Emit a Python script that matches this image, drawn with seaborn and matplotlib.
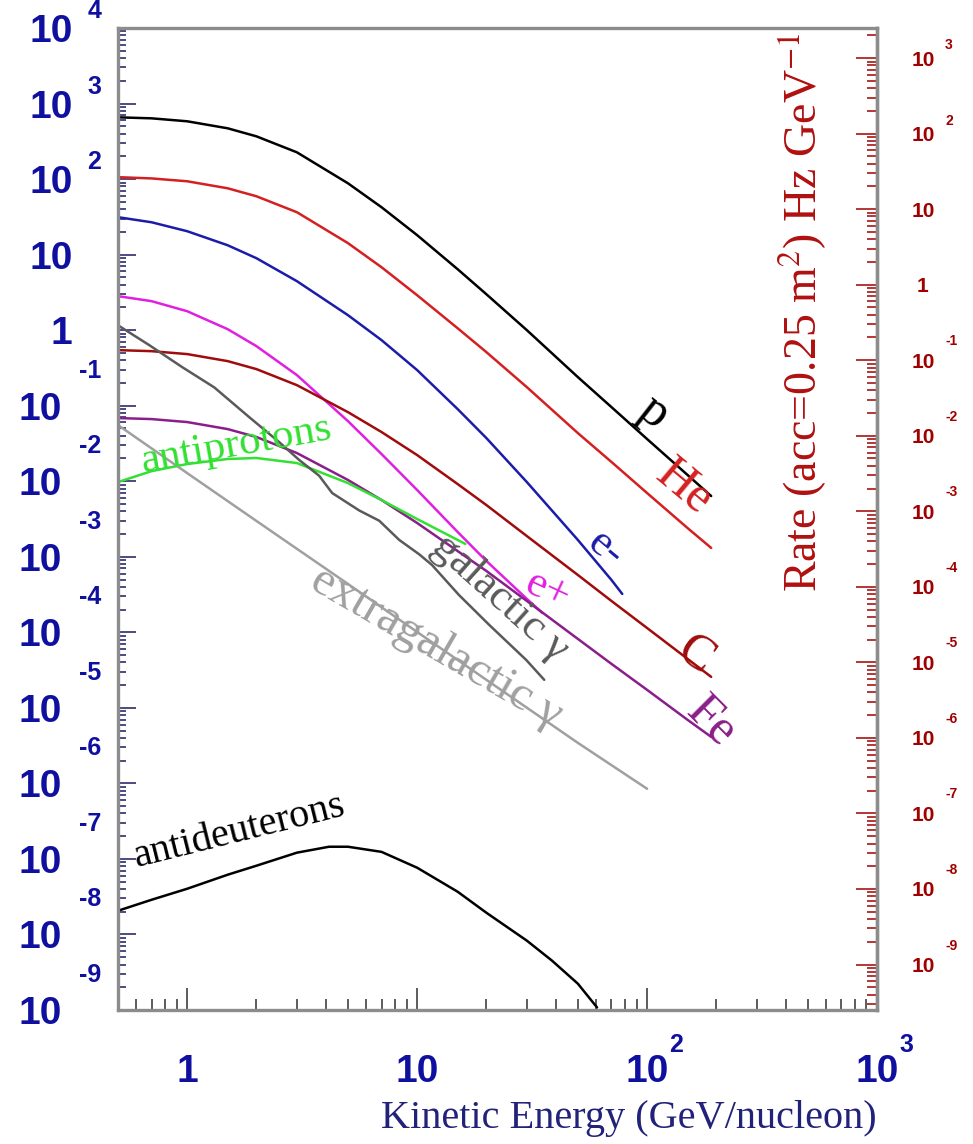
import numpy as np
import pandas as pd
import seaborn as sns
import matplotlib.pyplot as plt
from matplotlib.ticker import LogLocator, NullFormatter

# kinetic energy (GeV/nucleon) and flux values
energy_p = [0.5, 0.7, 1, 1.5, 2, 3, 5, 7, 10, 15, 20, 30, 50, 70, 100, 150, 190]
flux_p = [657, 637, 582, 470, 368, 226, 88.0, 42.4, 18.1, 6.41, 2.99, 1.00,
          0.239, 0.0958, 0.0362, 0.0121, 0.00637]

energy_he = [0.5, 0.7, 1, 1.5, 2, 3, 5, 7, 10, 15, 20, 30, 50, 70, 100, 150, 190]
flux_he = [106, 102, 93.5, 75.5, 59.2, 36.4, 14.2, 6.81, 2.90, 1.06, 0.512, 0.176,
           0.0434, 0.0180, 0.00698, 0.00240, 0.00131]

energy_em = [0.5, 0.7, 1, 1.5, 2, 3, 5, 7, 10, 15, 20, 30, 50, 70, 78]
flux_em = [31.3, 26.8, 20.4, 13.3, 8.96, 4.45, 1.58, 0.738, 0.296, 0.0902, 0.0373,
           0.00975, 0.00167, 0.000493, 0.000322]

energy_ep = [0.5, 0.7, 1, 1.5, 2, 3, 5, 7, 10, 15, 20, 30, 35]
flux_ep = [2.82, 2.42, 1.78, 1.03, 0.614, 0.254, 0.0625, 0.0229, 0.00765, 0.00213,
           0.000880, 0.000277, 0.000181]

energy_c = [0.5, 0.7, 1, 1.5, 2, 3, 5, 7, 10, 15, 20, 30, 50, 70, 100, 150, 190]
flux_c = [0.544, 0.527, 0.482, 0.389, 0.305, 0.187, 0.0822, 0.0448, 0.0222, 0.00918,
          0.00484, 0.00188, 0.000574, 0.000260, 0.000114, 4.45e-5, 2.57e-5]

energy_fe = [0.5, 0.7, 1, 1.5, 2, 3, 5, 7, 10, 15, 20, 30, 50, 70, 100, 150, 190]
flux_fe = [0.0686, 0.0665, 0.0607, 0.0490, 0.0385, 0.0236, 0.0104, 0.00564, 0.00280,
           0.00119, 0.000649, 0.000260, 8.18e-5, 3.82e-5, 1.73e-5, 6.94e-6, 4.13e-6]

energy_pbar = [0.5, 0.7, 1, 1.5, 2, 3, 5, 7, 10, 15, 16.2]
flux_pbar = [0.00975, 0.0136, 0.0169, 0.0197, 0.0203, 0.0174, 0.00946, 0.00564,
             0.00316, 0.00167, 0.00148]

energy_gal = [0.5, 0.684, 0.951, 1.31, 1.86, 2.51, 3.07, 3.75, 4.27,
              5.60, 6.84, 8.36, 10.2, 11.6, 15.2, 20.6, 29.8, 35.7]
flux_gal = [1.16, 0.633, 0.324, 0.175, 0.0706, 0.0330, 0.0191, 0.0118, 0.00698,
            0.00410, 0.00300, 0.00167, 0.00108, 0.000779, 0.000312, 0.000125, 4.31e-5, 2.35e-5]

energy_xgal = [0.5, 1, 2, 5, 10, 20, 50, 100]
flux_xgal = [0.0554, 0.0128, 0.00298, 0.000437, 0.000101, 2.35e-5, 3.44e-6, 8.49e-7]

energy_dbar = [0.5, 0.7, 1, 1.5, 2, 3, 4.14, 5, 7, 10, 15, 20, 30, 38.6, 50, 60.6]
flux_dbar = [2.06e-8, 2.88e-8, 4.03e-8, 6.18e-8, 8.13e-8, 1.21e-7, 1.45e-7, 1.45e-7,
             1.24e-7, 7.65e-8, 3.68e-8, 1.94e-8, 8.28e-9, 4.50e-9, 2.23e-9, 1.08e-9]

species = ["p", "He", "e-", "e+", "C", "Fe", "antiprotons",
           "galactic", "extragalactic", "antideuterons"]
energies = [energy_p, energy_he, energy_em, energy_ep, energy_c, energy_fe,
            energy_pbar, energy_gal, energy_xgal, energy_dbar]
fluxes = [flux_p, flux_he, flux_em, flux_ep, flux_c, flux_fe,
          flux_pbar, flux_gal, flux_xgal, flux_dbar]

# acceptance used for the right hand rate axis (m^2)
acceptance = 0.25

y_exponents = list(range(4, -10, -1))
rate_exponents = list(range(3, -10, -1))
x_exponents = [0, 1, 2, 3]

colors = {
    "p": "#000000",
    "He": "#d42020",
    "e-": "#1c1caa",
    "e+": "#e020e0",
    "C": "#a00c0c",
    "Fe": "#8a1e8a",
    "antiprotons": "#33e033",
    "galactic": "#5a5a5a",
    "extragalactic": "#a0a0a0",
    "antideuterons": "#000000",
}

rows = []
for name, en, fl in zip(species, energies, fluxes):
    for e, f in zip(en, fl):
        rows.append({"energy": e, "flux": f, "species": name})
df = pd.DataFrame(rows)

sns.set_theme(style="white")
plt.rcParams["font.family"] = ["Liberation Serif", "DejaVu Serif"]
plt.rcParams["mathtext.fontset"] = "stix"

W, H = 973, 1144
fig = plt.figure(figsize=(W / 100, H / 100), dpi=100)
ax = fig.add_axes([118 / W, (H - 1010) / H, 759 / W, 982 / H])

sns.lineplot(data=df, x="energy", y="flux", hue="species", palette=colors,
             sort=False, estimator=None, legend=False, linewidth=1.8, ax=ax)

ax.set_xscale("log")
ax.set_yscale("log")
ax.set_xlim(0.5, 1000)
ax.set_ylim(1e-9, 1e4)
ax.set_xlabel("")
ax.set_ylabel("")

frame = "#8c8c8c"
for side in ["left", "right", "top", "bottom"]:
    ax.spines[side].set_color(frame)
    ax.spines[side].set_linewidth(2.4)
    ax.spines[side].set_visible(True)

for axis in [ax.xaxis, ax.yaxis]:
    axis.set_major_locator(LogLocator(base=10, numticks=30))
    axis.set_minor_locator(LogLocator(base=10, subs=np.arange(2, 10), numticks=30))
    axis.set_major_formatter(NullFormatter())
    axis.set_minor_formatter(NullFormatter())

ax.tick_params(axis="x", which="both", direction="in", top=False, bottom=True,
               color="#303030", width=1.1)
ax.tick_params(axis="x", which="major", length=16)
ax.tick_params(axis="x", which="minor", length=8)
ax.tick_params(axis="y", which="both", direction="in", left=True, right=False,
               color="#1a1a60", width=1.1)
ax.tick_params(axis="y", which="major", length=13)
ax.tick_params(axis="y", which="minor", length=6)

# right hand axis: counting rate for the given acceptance
red = "#a00000"
sec = ax.secondary_yaxis("right", functions=(lambda f: f * acceptance,
                                             lambda r: r / acceptance))
sec.yaxis.set_major_locator(LogLocator(base=10, numticks=30))
sec.yaxis.set_minor_locator(LogLocator(base=10, subs=np.arange(2, 10), numticks=30))
sec.yaxis.set_major_formatter(NullFormatter())
sec.yaxis.set_minor_formatter(NullFormatter())
sec.tick_params(which="both", direction="in", color=red, width=1.1)
sec.tick_params(which="major", length=15)
sec.tick_params(which="minor", length=7)
sec.spines["right"].set_color(frame)
sec.spines["right"].set_linewidth(2.4)

# ROOT style tick labels: big "10" with a detached exponent
blue = "#1010a0"
px = 100 / 72
big, small = 28, 18
lab = dict(family="Liberation Sans", weight="bold", annotation_clip=False,
           textcoords="offset pixels", va="baseline")

for e in y_exponents:
    y = 10.0 ** e
    base = "1" if e == 0 else "10"
    dx = -56 if e < 0 else (-46 if e == 0 else -45)
    ax.annotate(base, xy=(0, y), xycoords=("axes fraction", "data"),
                xytext=(dx, -0.36 * big * px), ha="right", fontsize=big,
                color=blue, **lab)
    if e not in (0, 1):
        dy = 37 if e < 0 else 19
        ax.annotate(str(e), xy=(0, y), xycoords=("axes fraction", "data"),
                    xytext=(-17, dy - 0.36 * small * px), ha="right",
                    fontsize=small, color=blue, **lab)

for k in x_exponents:
    x = 10.0 ** k
    base = "1" if k == 0 else "10"
    ax.annotate(base, xy=(x, 0), xycoords=("data", "axes fraction"),
                xytext=(0, -72), ha="center", fontsize=big, color=blue, **lab)
    if k >= 2:
        ax.annotate(str(k), xy=(x, 0), xycoords=("data", "axes fraction"),
                    xytext=(22, -42), ha="left", fontsize=small, color=blue, **lab)

rbig, rsmall = 15, 10
for e in rate_exponents:
    y = 10.0 ** e / acceptance
    base = "1" if e == 0 else "10"
    ax.annotate(base, xy=(1, y), xycoords=("axes fraction", "data"),
                xytext=(35 if e != 0 else 40, -0.36 * rbig * px), ha="left",
                fontsize=rbig, color=red, **lab)
    if e not in (0, 1):
        dy = 20 if e < 0 else 14
        ax.annotate(str(e), xy=(1, y), xycoords=("axes fraction", "data"),
                    xytext=(68, dy - 0.36 * rsmall * px), ha="left",
                    fontsize=rsmall, color=red, **lab)

ax.text(0.9025, 0.4257, r"Rate (acc=0.25 m$^2$) Hz GeV$^{-1}$", transform=ax.transAxes,
        rotation=90, ha="center", va="bottom", fontsize=33, color="#b01010")

fig.text(877 / W, 1 - 1128 / H, "Kinetic Energy (GeV/nucleon)", ha="right",
         va="baseline", fontsize=29, color="#22227a")

# curve labels
labels = [
    ("p", 107, 0.082, -38, "#000000", 36),
    ("He", 145, 0.0084, -40, "#d42020", 36),
    ("e-", 66, 0.0013, -40, "#1c1caa", 32),
    ("e+", 36.7, 3.6e-4, -25, "#e020e0", 32),
    ("C", 163, 5.0e-5, -35, "#a00c0c", 36),
    ("Fe", 190, 6.5e-6, -45, "#8a1e8a", 36),
    ("galactic γ", 23.0, 2.9e-4, -42, "#5a5a5a", 32),
    ("extragalactic γ", 12.1, 6.2e-5, -30, "#a0a0a0", 35),
    ("antiprotons", 1.63, 0.030, 10, "#33e033", 31),
    ("antideuterons", 1.68, 2.3e-7, 14, "#000000", 29),
]
for text, x, y, rot, col, size in labels:
    ax.text(x, y, text, rotation=rot, rotation_mode="anchor", ha="center",
            va="center", fontsize=size, color=col)

fig.savefig("out.png", dpi=100)
